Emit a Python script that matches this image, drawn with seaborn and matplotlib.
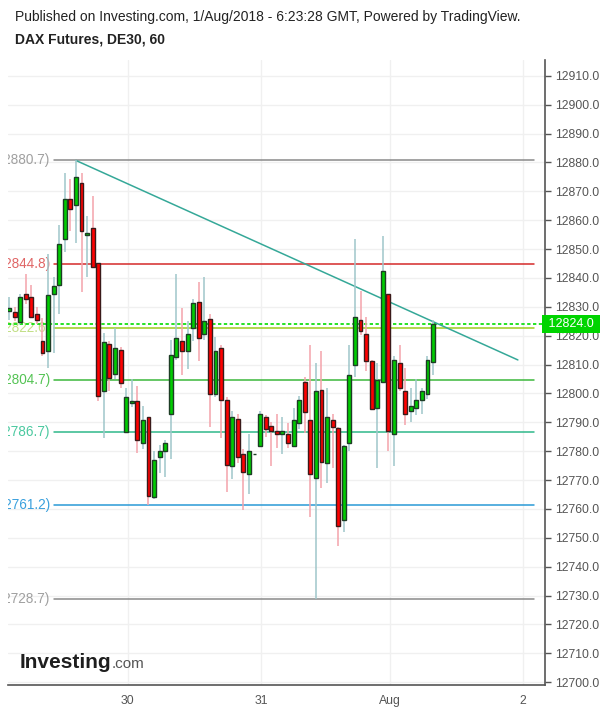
import numpy as np
import pandas as pd
import matplotlib
matplotlib.use("Agg")
import matplotlib.pyplot as plt
import matplotlib.transforms as mtransforms
import seaborn as sns

# ---------------- data ----------------
opens = [12828.5, 12828.3, 12824.7, 12834.4, 12833.3, 12827.4, 12818.0, 12814.6, 12834.4, 12837.5,
         12853.4, 12867.3, 12865.3, 12872.8, 12854.8, 12857.2, 12845.3, 12800.9, 12817.0, 12806.6,
         12815.1, 12786.8, 12796.6, 12797.5, 12782.7, 12791.7, 12764.0, 12777.9, 12780.0, 12792.8,
         12812.5, 12818.3, 12814.6, 12822.6, 12831.6, 12820.5, 12825.7, 12799.7, 12815.7, 12797.6,
         12774.7, 12791.0, 12778.9, 12772.0, 12779.0, 12781.7, 12791.7, 12788.6, 12786.9, 12785.8,
         12785.8, 12781.7, 12789.7, 12803.9, 12790.7, 12770.6, 12801.1, 12775.8, 12790.7, 12787.9,
         12756.1, 12782.7, 12809.7, 12825.4, 12820.5, 12811.2, 12794.9, 12803.9, 12834.4, 12785.8,
         12810.5, 12800.7, 12793.8, 12794.9, 12797.6, 12799.7, 12810.8]
closes = [12829.5, 12826.4, 12833.3, 12832.7, 12826.4, 12825.3, 12814.0, 12834.0, 12837.1, 12851.7,
          12867.3, 12863.8, 12875.1, 12856.3, 12855.5, 12843.9, 12799.2, 12817.7, 12805.2, 12815.7,
          12803.5, 12798.7, 12797.5, 12783.8, 12790.7, 12764.6, 12776.8, 12780.0, 12782.7, 12813.2,
          12819.3, 12814.6, 12820.5, 12831.2, 12819.1, 12825.0, 12799.7, 12814.6, 12797.7, 12775.1,
          12791.7, 12778.0, 12772.7, 12780.0, 12779.0, 12792.8, 12787.6, 12786.9, 12785.8, 12786.9,
          12782.7, 12790.7, 12797.6, 12793.5, 12772.0, 12800.7, 12776.1, 12791.7, 12788.3, 12754.2,
          12781.7, 12806.3, 12826.4, 12821.5, 12811.2, 12794.6, 12804.6, 12842.3, 12786.9, 12811.5,
          12801.8, 12792.8, 12795.6, 12797.6, 12800.7, 12811.5, 12824.0]
highs = [12833.5, 12830.0, 12834.5, 12841.4, 12837.6, 12830.0, 12826.0, 12848.3, 12840.3, 12858.4,
         12876.5, 12874.2, 12880.7, 12876.5, 12861.3, 12868.4, 12845.3, 12820.9, 12818.3, 12822.6,
         12816.0, 12802.0, 12804.9, 12802.6, 12795.7, 12792.0, 12780.1, 12782.0, 12784.0, 12818.5,
         12841.4, 12829.5, 12825.0, 12832.6, 12838.6, 12840.5, 12827.5, 12819.5, 12816.8, 12798.9,
         12793.9, 12792.9, 12780.9, 12786.0, 12779.0, 12794.0, 12792.5, 12790.0, 12793.0, 12791.7,
         12789.7, 12795.0, 12799.0, 12805.6, 12816.8, 12810.5, 12814.7, 12802.0, 12792.9, 12788.5,
         12782.0, 12816.8, 12853.5, 12835.6, 12826.4, 12811.6, 12810.5, 12854.7, 12834.4, 12812.8,
         12816.8, 12808.8, 12802.0, 12805.0, 12802.0, 12812.8, 12825.5]
lows = [12825.5, 12825.0, 12824.0, 12831.0, 12826.0, 12824.0, 12813.0, 12808.7, 12814.0, 12827.5,
        12849.0, 12856.4, 12852.0, 12835.3, 12840.5, 12843.9, 12797.5, 12784.5, 12801.0, 12805.0,
        12802.0, 12786.8, 12795.2, 12779.3, 12780.9, 12761.3, 12763.3, 12772.3, 12771.2, 12777.4,
        12811.6, 12806.5, 12808.4, 12818.0, 12811.4, 12818.5, 12788.5, 12798.6, 12784.5, 12766.0,
        12770.3, 12776.0, 12759.6, 12765.0, 12779.0, 12781.7, 12785.0, 12775.0, 12781.0, 12779.0,
        12781.0, 12781.7, 12787.6, 12786.4, 12757.3, 12728.7, 12767.4, 12769.0, 12774.0, 12747.3,
        12752.1, 12780.2, 12805.8, 12820.2, 12807.9, 12794.6, 12774.0, 12803.9, 12780.2, 12775.0,
        12801.0, 12789.0, 12790.0, 12792.7, 12793.0, 12798.0, 12806.4]

day_labels = ["30", "31", "Aug", "2"]
day_positions = [21.3, 45.2, 68.3, 92.1]          # bar-index positions of day boundaries

level_values = [12880.7, 12844.8, 12822.6, 12804.7, 12786.7, 12761.2, 12728.7]
level_colors = ["#8a8a8a", "#d42a2a", "#9ccc1c", "#3cb83c", "#2fb88a", "#2a9ad6", "#8a8a8a"]
level_text_colors = ["#a0a0a0", "#e06666", "#c2df86", "#55c455", "#4cc9a0", "#3aa0dd", "#a0a0a0"]

trend_x = [12, 91.2]
trend_y = [12880.7, 12811.6]

last_price = 12824.0

ytick_values = list(range(12700, 12911, 10))

# ---------------- figure ----------------
sns.set_style("white")
plt.rcParams["font.family"] = ["Liberation Sans", "DejaVu Sans"]

fig = plt.figure(figsize=(6, 7.08), dpi=100)
ax = fig.add_axes([8 / 600, 1 - 685 / 708, 537 / 600, 625 / 708])

df = pd.DataFrame({"o": opens, "h": highs, "l": lows, "c": closes})
df["i"] = np.arange(len(df))
df["up"] = df["c"] >= df["o"]

# grid
for v in ytick_values:
    ax.axhline(v, color="#f0f0f0", lw=1, zorder=0)
for p in day_positions:
    ax.axvline(p, color="#f0f0f0", lw=1, zorder=0)

# level lines with labels clipped by the plot edge
x0f, x1f = (54 - 8) / 537, (534 - 8) / 537
blend = mtransforms.blended_transform_factory(ax.transAxes, ax.transData)
for v, col, tcol in zip(level_values, level_colors, level_text_colors):
    ax.axhline(v, xmin=x0f, xmax=x1f, color=col, lw=1.1, zorder=1)
    ax.text((50 - 8) / 537, v, f"({v:.1f})", transform=blend, ha="right", va="center",
            fontsize=9.8, color=tcol, clip_on=True, zorder=1)

# current price dotted line
ax.axhline(last_price, color="#00dd00", lw=1.2, ls=(0, (2, 1.5)), zorder=1)

# trend line
sns.lineplot(x=trend_x, y=trend_y, color="#35a898", lw=1.1, ax=ax, zorder=2)

# candles
wick_cols = np.where(df["up"], "#9fc6ca", "#f4a3ab")
ax.vlines(df["i"], df["l"], df["h"], colors=wick_cols, lw=1.1, zorder=3)
body_bottom = np.minimum(df["o"], df["c"])
body_height = np.maximum(np.abs(df["c"] - df["o"]), 0.12)
body_cols = np.where(df["up"], "#00cc00", "#ff0000")
edge_cols = np.where(df["up"], "#1d3d25", "#3a1a1a")
ax.bar(df["i"], body_height, bottom=body_bottom, width=0.7, color=body_cols,
       edgecolor=edge_cols, linewidth=1.0, zorder=4)

# axes
ax.set_xlim(-0.18, 96.06)
ax.set_ylim(12699, 12915.5)
ax.yaxis.tick_right()
ax.set_yticks(ytick_values)
ax.set_yticklabels([f"{v:.1f}" for v in ytick_values])
ax.set_xticks(day_positions)
ax.set_xticklabels(day_labels)
ax.tick_params(axis="y", length=4, width=1, color="#555555", labelsize=8.8,
               labelcolor="#555555", pad=3, direction="out")
ax.tick_params(axis="x", length=4, width=1, color="#555555", labelsize=8.8,
               labelcolor="#555555", pad=3, direction="out")
for s in ["left", "top"]:
    ax.spines[s].set_visible(False)
for s in ["right", "bottom"]:
    ax.spines[s].set_color("#555555")
    ax.spines[s].set_linewidth(1.2)

# last price tag
ax.text(1.0, last_price, f" {last_price:.1f} ", transform=blend, ha="left", va="center",
        fontsize=9, color="white", zorder=10, clip_on=False,
        bbox=dict(boxstyle="square,pad=0.25", fc="#00d400", ec="none"))

# titles
fig.text(15 / 600, 1 - 17 / 708, "Published on Investing.com, 1/Aug/2018 - 6:23:28 GMT, Powered by TradingView.",
         fontsize=10, color="#222222", va="center", ha="left")
fig.text(15 / 600, 1 - 40 / 708, "DAX Futures, DE30, 60", fontsize=10, fontweight="bold",
         color="#222222", va="center", ha="left")

# logo
fig.text(20 / 600, 1 - 662 / 708, "Investing", fontsize=15, fontweight="bold", color="#1e1e1e",
         va="center", ha="left")
fig.text(112 / 600, 1 - 664 / 708, ".com", fontsize=11, color="#555555", va="center", ha="left")

fig.savefig("out.png", dpi=100)
